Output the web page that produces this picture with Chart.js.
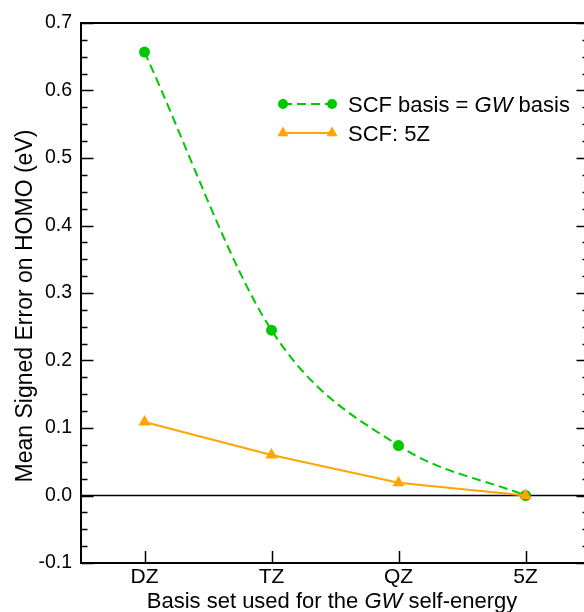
<!DOCTYPE html>
<html>
<head>
<meta charset="utf-8">
<script src="https://cdn.jsdelivr.net/npm/chart.js@4.4.1/dist/chart.umd.min.js"></script>
<style>
html,body{margin:0;padding:0;background:#fff;overflow:hidden;}
#wrap{width:584px;height:612px;overflow:hidden;}
</style>
</head>
<body>
<div id="wrap"><canvas id="c" width="600" height="612"></canvas></div>
<script>
// ---- data ----
const categories = ['DZ', 'TZ', 'QZ', '5Z'];
const scfEqualsGwBasis = [0.657, 0.245, 0.074, 0.000];
const scf5Z = [0.109, 0.060, 0.019, 0.000];
const yTickValues = [-0.1, 0.0, 0.1, 0.2, 0.3, 0.4, 0.5, 0.6, 0.7];
const yMinorStep = 0.025;
const seriesNames = ['SCF basis = ', 'GW', ' basis'];
const seriesName2 = 'SCF: 5Z';
const xTitleParts = ['Basis set used for the ', 'GW', ' self-energy'];
const yTitle = 'Mean Signed Error on HOMO (eV)';

const GREEN = '#00c800';
const ORANGE = '#ffa500';
const FONT = '"Liberation Sans", Arial, Helvetica, sans-serif';

function drawMixed(ctx, parts, x, y, size, align) {
  const fonts = parts.map((p, i) => (i % 2 === 1 ? 'italic ' : '') + size + 'px ' + FONT);
  let widths = parts.map((p, i) => { ctx.font = fonts[i]; return ctx.measureText(p).width; });
  let total = widths.reduce((a, b) => a + b, 0);
  let cx = align === 'center' ? x - total / 2 : x;
  ctx.textAlign = 'left';
  ctx.textBaseline = 'alphabetic';
  parts.forEach((p, i) => { ctx.font = fonts[i]; ctx.fillText(p, cx, y); cx += widths[i]; });
}

const framePlugin = {
  id: 'frame',
  beforeDatasetsDraw(chart) {
    const {ctx, chartArea: a, scales: {y}} = chart;
    const y0 = y.getPixelForValue(0);
    ctx.save();
    ctx.strokeStyle = '#000';
    ctx.lineWidth = 1.5;
    ctx.beginPath(); ctx.moveTo(a.left, y0); ctx.lineTo(a.right, y0); ctx.stroke();
    ctx.restore();
  },
  afterDraw(chart) {
    const {ctx, chartArea: a, scales: {x, y}} = chart;
    ctx.save();
    ctx.strokeStyle = '#000';
    ctx.lineWidth = 1.5;
    const nMinor = Math.round((y.max - y.min) / yMinorStep);
    for (let k = 0; k <= nMinor; k++) {
      const v = y.min + k * yMinorStep;
      const py = Math.round(y.getPixelForValue(v)) + 0.5;
      const major = k % 4 === 0;
      const len = major ? 12.5 : 6.5;
      ctx.beginPath();
      ctx.moveTo(a.left, py); ctx.lineTo(a.left + len, py);
      ctx.moveTo(a.right, py); ctx.lineTo(a.right - len, py);
      ctx.stroke();
    }
    categories.forEach((c, i) => {
      const px = Math.round(x.getPixelForValue(i)) + 0.5;
      ctx.beginPath(); ctx.moveTo(px, a.bottom); ctx.lineTo(px, a.bottom - 12); ctx.stroke();
    });
    ctx.lineWidth = 2;
    ctx.strokeRect(a.left, a.top, a.right - a.left, a.bottom - a.top);

    ctx.fillStyle = '#000';
    drawMixed(ctx, xTitleParts, 332, 608, 22, 'center');
    ctx.save();
    ctx.translate(32, 306);
    ctx.rotate(-Math.PI / 2);
    ctx.font = '23px ' + FONT;
    ctx.textAlign = 'center';
    ctx.textBaseline = 'alphabetic';
    ctx.fillText(yTitle, 0, 0);
    ctx.restore();

    const lx1 = 283, lx2 = 332;
    const ly1 = 104, ly2 = 133;
    ctx.lineWidth = 2;
    ctx.strokeStyle = GREEN;
    ctx.setLineDash([9, 5]);
    ctx.beginPath(); ctx.moveTo(lx1, ly1); ctx.lineTo(lx2, ly1); ctx.stroke();
    ctx.setLineDash([]);
    ctx.fillStyle = GREEN;
    [lx1, lx2].forEach(px => { ctx.beginPath(); ctx.arc(px, ly1, 5, 0, Math.PI * 2); ctx.fill(); });
    ctx.strokeStyle = ORANGE;
    ctx.beginPath(); ctx.moveTo(lx1, ly2); ctx.lineTo(lx2, ly2); ctx.stroke();
    ctx.fillStyle = ORANGE;
    [lx1, lx2].forEach(px => {
      const r = 6.5;
      ctx.beginPath();
      ctx.moveTo(px, ly2 - r);
      ctx.lineTo(px + r * 0.866, ly2 + r * 0.5);
      ctx.lineTo(px - r * 0.866, ly2 + r * 0.5);
      ctx.closePath(); ctx.fill();
    });
    ctx.fillStyle = '#000';
    drawMixed(ctx, seriesNames, 348, 111.5, 22, 'left');
    ctx.font = '22px ' + FONT;
    ctx.fillText(seriesName2, 348, 140.5);
    ctx.restore();
  }
};

new Chart(document.getElementById('c'), {
  type: 'line',
  data: {
    datasets: [
      {
        label: seriesNames.join(''),
        data: categories.map((c, i) => ({x: i, y: scfEqualsGwBasis[i]})),
        borderColor: GREEN,
        backgroundColor: GREEN,
        borderWidth: 2,
        borderDash: [9, 5],
        cubicInterpolationMode: 'monotone',
        pointStyle: 'circle',
        pointRadius: 5.5,
        pointBorderWidth: 0,
        order: 2
      },
      {
        label: seriesName2,
        data: categories.map((c, i) => ({x: i, y: scf5Z[i]})),
        borderColor: ORANGE,
        backgroundColor: ORANGE,
        borderWidth: 2,
        tension: 0,
        pointStyle: 'triangle',
        pointRadius: 7,
        pointBorderWidth: 0,
        order: 1
      }
    ]
  },
  options: {
    responsive: false,
    animation: false,
    clip: false,
    layout: {padding: {top: 23, right: 11, left: 0, bottom: 0}},
    plugins: {legend: {display: false}, tooltip: {enabled: false}},
    scales: {
      x: {
        type: 'linear',
        min: -0.5,
        max: 3.5,
        afterBuildTicks: s => { s.ticks = categories.map((c, i) => ({value: i})); },
        afterFit: s => { s.height = 49; },
        ticks: {
          autoSkip: false,
          maxRotation: 0,
          callback: v => categories[v],
          color: '#000',
          font: {family: FONT, size: 21},
          padding: 2
        },
        grid: {display: false, drawTicks: false},
        border: {display: false}
      },
      y: {
        min: -0.1,
        max: 0.7,
        afterBuildTicks: s => { s.ticks = yTickValues.map(v => ({value: v})); },
        afterFit: s => { s.width = 81; },
        ticks: {
          callback: v => v.toFixed(1),
          color: '#000',
          font: {family: FONT, size: 19.5},
          padding: 9
        },
        grid: {display: false, drawTicks: false},
        border: {display: false}
      }
    }
  },
  plugins: [framePlugin]
});
</script>
</body>
</html>
